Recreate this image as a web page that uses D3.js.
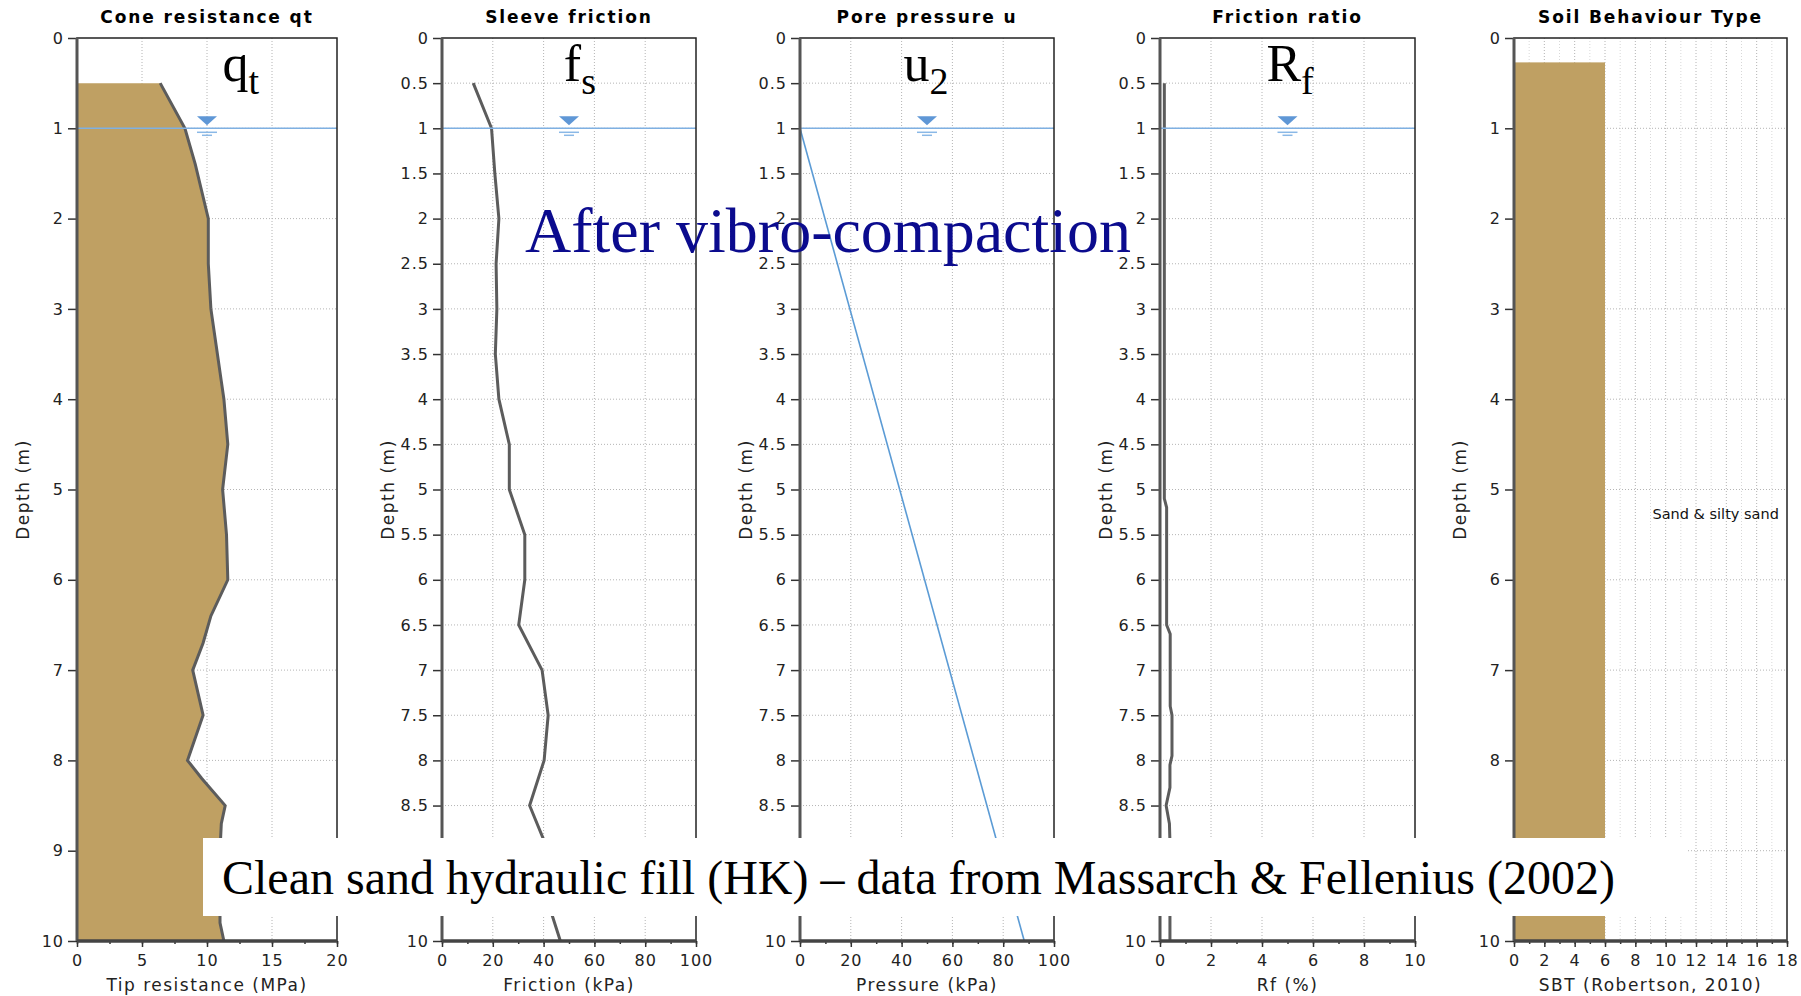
<!DOCTYPE html>
<meta charset="utf-8">
<script src="https://d3js.org/d3.v7.min.js"></script>
<style>
  body { margin: 0; background: #fff; }
</style>
<div id="chart"></div>
<script>
    // CPT profile values (depth in m)
    var qtDepth = [0.5, 1.0, 1.4, 1.7, 2.0, 2.5, 3.0, 3.4, 3.8, 4.0, 4.5, 5.0, 5.5, 6.0, 6.4, 6.7, 7.0, 7.5, 8.0, 8.2, 8.5, 8.7, 9.0, 9.5, 9.8, 10.0];
    var qtValue = [6.4, 8.3, 9.1, 9.6, 10.1, 10.1, 10.3, 10.7, 11.1, 11.3, 11.6, 11.2, 11.5, 11.6, 10.3, 9.7, 8.9, 9.7, 8.5, 9.6, 11.4, 11.1, 11.0, 11.0, 11.0, 11.3];

    var fsDepth = [0.5, 1.0, 1.5, 2.0, 2.5, 3.0, 3.5, 4.0, 4.5, 5.0, 5.5, 6.0, 6.5, 7.0, 7.5, 8.0, 8.5, 9.0, 9.7, 10.0];
    var fsValue = [12.3, 19.5, 20.8, 22.4, 21.3, 21.6, 21.0, 22.4, 26.5, 26.5, 32.6, 32.6, 30.2, 39.4, 41.8, 40.2, 34.5, 41.8, 43.2, 46.6];

    var u2Depth = [1.0, 10.0];
    var u2Value = [0, 88.3];

    var rfDepth = [0.5, 5.1, 5.2, 6.5, 6.6, 7.4, 7.5, 7.95, 8.05, 8.3, 8.5, 8.7, 8.9, 10.0];
    var rfValue = [0.17, 0.17, 0.26, 0.26, 0.40, 0.40, 0.47, 0.47, 0.39, 0.39, 0.24, 0.37, 0.39, 0.39];

    var sbtTop = [0.27];
    var sbtBottom = [10];
    var sbtZone = [6];
    var sbtLabel = ["Sand & silty sand"];

    var waterDepth = 1;

    // panel texts and axis settings
    var panelTitles = ["Cone resistance qt", "Sleeve friction", "Pore pressure u", "Friction ratio", "Soil Behaviour Type"];
    var xTitles = ["Tip resistance (MPa)", "Friction (kPa)", "Pressure (kPa)", "Rf (%)", "SBT (Robertson, 2010)"];
    var xMax = [20, 100, 100, 10, 18];
    var xMajorStep = [5, 20, 20, 2, 2];
    var xMinorStep = [2.5, 10, 10, 1, 1];
    var gridStep = [5, 20, 20, 2, 1];
    var depthStep = [1, 0.5, 0.5, 0.5, 1];

    var symbolMain = ["q", "f", "u", "R"];
    var symbolSub = ["t", "s", "2", "f"];
    var symbolAt = [12.6, 54.3, 49.6, 5.1];

    // layout
    var panelLeft = [77, 442, 800, 1160, 1514];
    var panelRight = [337, 696, 1054, 1415, 1787];
    var plotTop = 38, plotBottom = 941;

    var svg = d3.select("#chart")
      .append("svg")
        .attr("width", 1801)
        .attr("height", 996)
        .style("font-family", "'DejaVu Sans', Verdana, sans-serif");

    var y = d3.scaleLinear().domain([0, 10]).range([plotTop, plotBottom]);

    panelLeft.forEach(function(left, i) {
        var x = d3.scaleLinear().domain([0, xMax[i]]).range([left, panelRight[i]]);
        var g = svg.append("g");

        // dotted grid
        var gx = d3.range(gridStep[i], xMax[i] - 1e-6, gridStep[i]);
        g.selectAll(".vgrid")
          .data(gx)
          .enter().append("line")
            .attr("x1", d => x(d)).attr("x2", d => x(d))
            .attr("y1", plotTop).attr("y2", plotBottom)
            .attr("stroke", d => (i == 4 && d % 2 == 1) ? "#d8d8d8" : "#b4b4b4")
            .attr("stroke-dasharray", "1,2");

        var gy = d3.range(depthStep[i], 10 - 1e-6, depthStep[i]);
        g.selectAll(".hgrid")
          .data(gy)
          .enter().append("line")
            .attr("x1", left).attr("x2", panelRight[i])
            .attr("y1", d => y(d)).attr("y2", d => y(d))
            .attr("stroke", "#b4b4b4")
            .attr("stroke-dasharray", "1,2");

        // data marks
        if (i == 0) {
            var qt = qtDepth.map((d, k) => [d, qtValue[k]]);
            g.append("path")
              .datum(qt)
              .attr("fill", "#bfa063")
              .attr("d", d3.area().y(d => y(d[0])).x0(x(0)).x1(d => x(d[1])));
            g.append("path")
              .datum(qt)
              .attr("fill", "none")
              .attr("stroke", "#5c5c5c")
              .attr("stroke-width", 3)
              .attr("d", d3.line().x(d => x(d[1])).y(d => y(d[0])));
        }
        if (i == 1 || i == 2 || i == 3) {
            var dep = [null, fsDepth, u2Depth, rfDepth][i];
            var val = [null, fsValue, u2Value, rfValue][i];
            g.append("path")
              .datum(dep.map((d, k) => [d, val[k]]))
              .attr("fill", "none")
              .attr("stroke", i == 2 ? "#5b9bd5" : "#5c5c5c")
              .attr("stroke-width", i == 2 ? 1.6 : 3)
              .attr("d", d3.line().x(d => x(d[1])).y(d => y(d[0])));
        }
        if (i == 4) {
            g.selectAll(".layer")
              .data(sbtZone)
              .enter().append("rect")
                .attr("x", x(0))
                .attr("y", (d, k) => y(sbtTop[k]))
                .attr("width", d => x(d) - x(0))
                .attr("height", (d, k) => y(sbtBottom[k]) - y(sbtTop[k]))
                .attr("fill", "#bfa063");
            g.selectAll(".layerLabel")
              .data(sbtLabel)
              .enter().append("text")
                .attr("x", x(13.3))
                .attr("y", (d, k) => y((sbtTop[k] + sbtBottom[k]) / 2) + 17)
                .attr("text-anchor", "middle")
                .style("font-size", "14.5px")
                .attr("fill", "#111")
                .text(d => d);
        }

        // water table
        if (i < 4) {
            var wy = y(waterDepth), cx = x(xMax[i] / 2);
            g.append("line")
              .attr("x1", left).attr("x2", panelRight[i])
              .attr("y1", wy).attr("y2", wy)
              .attr("stroke", "#7fb0e2").attr("stroke-width", 1.5);
            g.append("path")
              .attr("d", "M" + (cx - 10) + "," + (wy - 12) + "L" + (cx + 10) + "," + (wy - 12) + "L" + cx + "," + (wy - 3) + "Z")
              .attr("fill", "#5f97d6");
            g.append("line")
              .attr("x1", cx - 10).attr("x2", cx + 10).attr("y1", wy + 4).attr("y2", wy + 4)
              .attr("stroke", "#8ab8e6").attr("stroke-width", 1.5);
            g.append("line")
              .attr("x1", cx - 5).attr("x2", cx + 5).attr("y1", wy + 7).attr("y2", wy + 7)
              .attr("stroke", "#8ab8e6").attr("stroke-width", 1.5);
        }

        // axes
        var yAxis = g.append("g")
            .attr("transform", "translate(" + left + ",0)")
            .call(d3.axisLeft(y)
                .tickValues(d3.range(0, 10 + 1e-6, depthStep[i]))
                .tickSize(9).tickPadding(4)
                .tickFormat(d3.format("~g")));
        var xAxis = g.append("g")
            .attr("transform", "translate(0," + plotBottom + ")")
            .call(d3.axisBottom(x)
                .tickValues(d3.range(0, xMax[i] + 1e-6, xMajorStep[i]))
                .tickSize(6).tickPadding(8));
        var xMinor = g.append("g")
            .attr("transform", "translate(0," + plotBottom + ")")
            .call(d3.axisBottom(x)
                .tickValues(d3.range(0, xMax[i] + 1e-6, xMinorStep[i]))
                .tickSize(3).tickFormat(""));
        [yAxis, xAxis, xMinor].forEach(function(a) {
            a.select(".domain").remove();
            a.selectAll("line").attr("stroke", "#333").attr("stroke-width", 1.5);
            a.selectAll("text")
              .attr("fill", "#222")
              .style("font-family", "'DejaVu Sans', Verdana, sans-serif")
              .style("font-size", "16px")
              .style("letter-spacing", "1px");
        });

        // frame
        g.append("rect")
          .attr("x", left).attr("y", plotTop)
          .attr("width", panelRight[i] - left).attr("height", plotBottom - plotTop)
          .attr("fill", "none").attr("stroke", "#222").attr("stroke-width", 1.5);
        g.append("line")
          .attr("x1", left).attr("x2", left).attr("y1", plotTop).attr("y2", plotBottom)
          .attr("stroke", "#555").attr("stroke-width", 3);
        g.append("line")
          .attr("x1", left).attr("x2", panelRight[i]).attr("y1", plotBottom).attr("y2", plotBottom)
          .attr("stroke", "#444").attr("stroke-width", 3.5);

        // titles
        g.append("text")
          .attr("x", (left + panelRight[i]) / 2).attr("y", 23)
          .attr("text-anchor", "middle")
          .style("font-size", "17px").style("font-weight", "bold").style("letter-spacing", "1.9px")
          .text(panelTitles[i]);
        g.append("text")
          .attr("x", (left + panelRight[i]) / 2).attr("y", 991)
          .attr("text-anchor", "middle")
          .attr("fill", "#222")
          .style("font-size", "17px").style("letter-spacing", "1.5px")
          .text(xTitles[i]);
        g.append("text")
          .attr("transform", "translate(" + (left - 48) + "," + y(5) + ")rotate(-90)")
          .attr("text-anchor", "middle")
          .attr("fill", "#222")
          .style("font-size", "17px").style("letter-spacing", "1.5px")
          .text("Depth (m)");

        // big symbol above each profile
        if (i < 4) {
            var s = g.append("text")
              .attr("x", x(symbolAt[i])).attr("y", y(0.48))
              .attr("text-anchor", "middle")
              .style("font-family", "'Liberation Serif', 'Times New Roman', serif")
              .style("font-size", "52px");
            s.append("tspan").text(symbolMain[i]);
            s.append("tspan").attr("dy", 13).style("font-size", "38px").text(symbolSub[i]);
        }
    });

    // annotations over the figure
    svg.append("text")
      .attr("x", 525).attr("y", 252)
      .attr("fill", "#0b0b8e")
      .style("font-family", "'Liberation Serif', 'Times New Roman', serif")
      .style("font-size", "64px")
      .text("After vibro-compaction");

    svg.append("rect")
      .attr("x", 203).attr("y", 838)
      .attr("width", 1484).attr("height", 78)
      .attr("fill", "#fff");
    svg.append("text")
      .attr("x", 222).attr("y", 894)
      .attr("fill", "#000")
      .style("font-family", "'Liberation Serif', 'Times New Roman', serif")
      .style("font-size", "48px")
      .text("Clean sand hydraulic fill (HK) \u2013 data from Massarch & Fellenius (2002)");
</script>
